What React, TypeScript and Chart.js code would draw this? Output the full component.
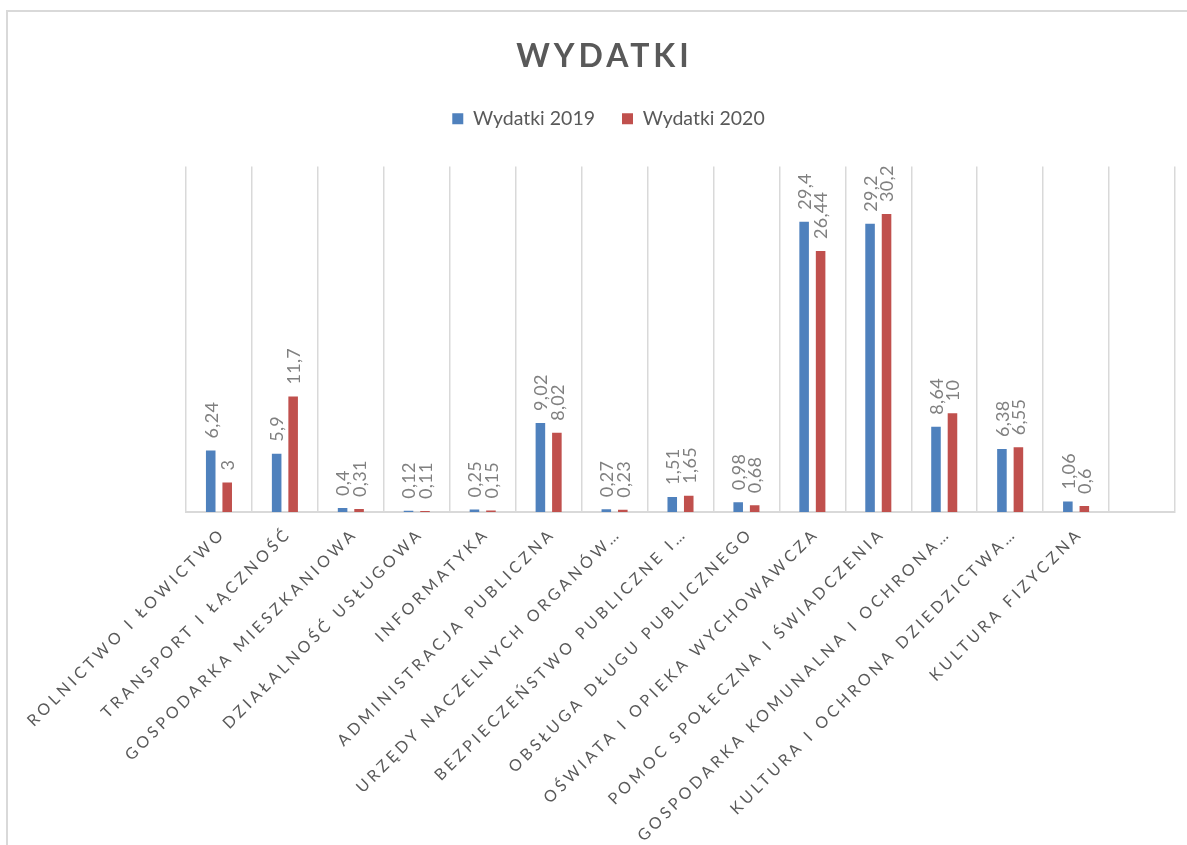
import React, { useEffect, useRef } from "react";
import { Chart, registerables } from "chart.js";

Chart.register(...registerables);

const categories = [
  "ROLNICTWO I ŁOWICTWO",
  "TRANSPORT I ŁĄCZNOŚĆ",
  "GOSPODARKA MIESZKANIOWA",
  "DZIAŁALNOŚĆ USŁUGOWA",
  "INFORMATYKA",
  "ADMINISTRACJA PUBLICZNA",
  "URZĘDY NACZELNYCH ORGANÓW…",
  "BEZPIECZEŃSTWO PUBLICZNE I…",
  "OBSŁUGA DŁUGU PUBLICZNEGO",
  "OŚWIATA I OPIEKA WYCHOWAWCZA",
  "POMOC SPOŁECZNA I ŚWIADCZENIA",
  "GOSPODARKA KOMUNALNA I OCHRONA…",
  "KULTURA I OCHRONA DZIEDZICTWA…",
  "KULTURA FIZYCZNA",
  "",
];

const wydatki2019 = [6.24, 5.9, 0.4, 0.12, 0.25, 9.02, 0.27, 1.51, 0.98, 29.4, 29.2, 8.64, 6.38, 1.06, null];
const wydatki2020 = [3, 11.7, 0.31, 0.11, 0.15, 8.02, 0.23, 1.65, 0.68, 26.44, 30.2, 10, 6.55, 0.6, null];

const seriesNames = ["Wydatki 2019", "Wydatki 2020"];
const titleText = "WYDATKI";
const yMin = 0;
const yMax = 35;

const fmt = (v: number) => String(v).replace(".", ",");

const customPlugin = {
  id: "customText",
  afterDatasetsDraw(chart: any) {
    const ctx = chart.ctx;
    chart.data.datasets.forEach((ds: any, di: number) => {
      const meta = chart.getDatasetMeta(di);
      meta.data.forEach((el: any, i: number) => {
        const v = ds.data[i];
        if (v == null) return;
        ctx.save();
        ctx.translate(el.x + 1, el.y - 12);
        ctx.rotate(-Math.PI / 2);
        ctx.font = "18px Lato";
        (ctx as any).letterSpacing = "0.3px";
        ctx.fillStyle = "#808080";
        ctx.textAlign = "left";
        ctx.textBaseline = "middle";
        ctx.fillText(fmt(v), 0, 0);
        ctx.restore();
      });
    });
  },
  afterDraw(chart: any) {
    const ctx = chart.ctx;
    // title
    ctx.save();
    ctx.font = "bold 32px Lato";
    (ctx as any).letterSpacing = "4px";
    ctx.fillStyle = "#595959";
    ctx.textAlign = "center";
    ctx.textBaseline = "alphabetic";
    ctx.fillText(titleText, 596.5, 55);
    ctx.restore();
    // category labels
    const xs = chart.scales.x;
    const bottom = chart.chartArea.bottom;
    const sp = 3.6;
    categories.forEach((c, i) => {
      if (!c) return;
      const x = xs.getPixelForValue(i);
      ctx.save();
      ctx.translate(x + 5, bottom + 25);
      ctx.rotate(-Math.PI / 4);
      ctx.font = "16px Lato";
      (ctx as any).letterSpacing = sp + "px";
      ctx.fillStyle = "#595959";
      ctx.textAlign = "right";
      ctx.textBaseline = "alphabetic";
      ctx.fillText(c, sp, 0);
      ctx.restore();
    });
  },
};

export default function App() {
  const ref = useRef<HTMLCanvasElement>(null);
  useEffect(() => {
    if (!ref.current) return;
    const chart = new Chart(ref.current, {
      type: "bar",
      data: {
        labels: categories,
        datasets: [
          {
            label: seriesNames[0],
            data: wydatki2019,
            backgroundColor: "#4f81bd",
            borderWidth: 0,
            xAxisID: "x",
            yAxisID: "y",
            categoryPercentage: 0.5,
            barPercentage: 0.58,
          },
          {
            label: seriesNames[1],
            data: wydatki2020,
            backgroundColor: "#c0504d",
            borderWidth: 0,
            xAxisID: "x",
            yAxisID: "y",
            categoryPercentage: 0.5,
            barPercentage: 0.58,
          },
        ],
      },
      options: {
        animation: false,
        responsive: false,
        layout: { padding: { top: 70, left: 34, right: 12, bottom: 0 } },
        plugins: {
          title: { display: false },
          tooltip: { enabled: false },
          legend: {
            display: true,
            position: "top",
            labels: {
              boxWidth: 11,
              boxHeight: 11,
              padding: 27,
              color: "#595959",
              font: { family: "Lato", size: 19.5 },
            },
          },
        },
        scales: {
          x: {
            type: "category",
            position: "bottom",
            offset: true,
            grid: { display: true, color: "#d9d9d9", lineWidth: 1.5, drawTicks: false, offset: true },
            border: { display: true, color: "#d9d9d9", width: 2 },
            ticks: { display: false },
            afterFit: (s: any) => {
              s.height = 333;
            },
          },
          xTop: {
            type: "category",
            position: "top",
            display: true,
            grid: { display: false, drawTicks: false },
            border: { display: false },
            ticks: { display: false },
            afterFit: (s: any) => {
              s.height = 28;
            },
          },
          y: {
            min: yMin,
            max: yMax,
            display: true,
            grid: { display: false, drawTicks: false },
            border: { display: false },
            ticks: { display: false },
            afterFit: (s: any) => {
              s.width = 144;
            },
          },
        },
      },
      plugins: [customPlugin],
    } as any);
    return () => chart.destroy();
  }, []);

  return (
    <div
      style={{
        position: "fixed",
        left: 6,
        top: 10,
        width: 1181,
        height: 835,
        borderLeft: "2px solid #d9d9d9",
        borderTop: "2px solid #d9d9d9",
        background: "#fff",
      }}
    >
      <canvas ref={ref} width={1179} height={833} style={{ display: "block" }} />
    </div>
  );
}
